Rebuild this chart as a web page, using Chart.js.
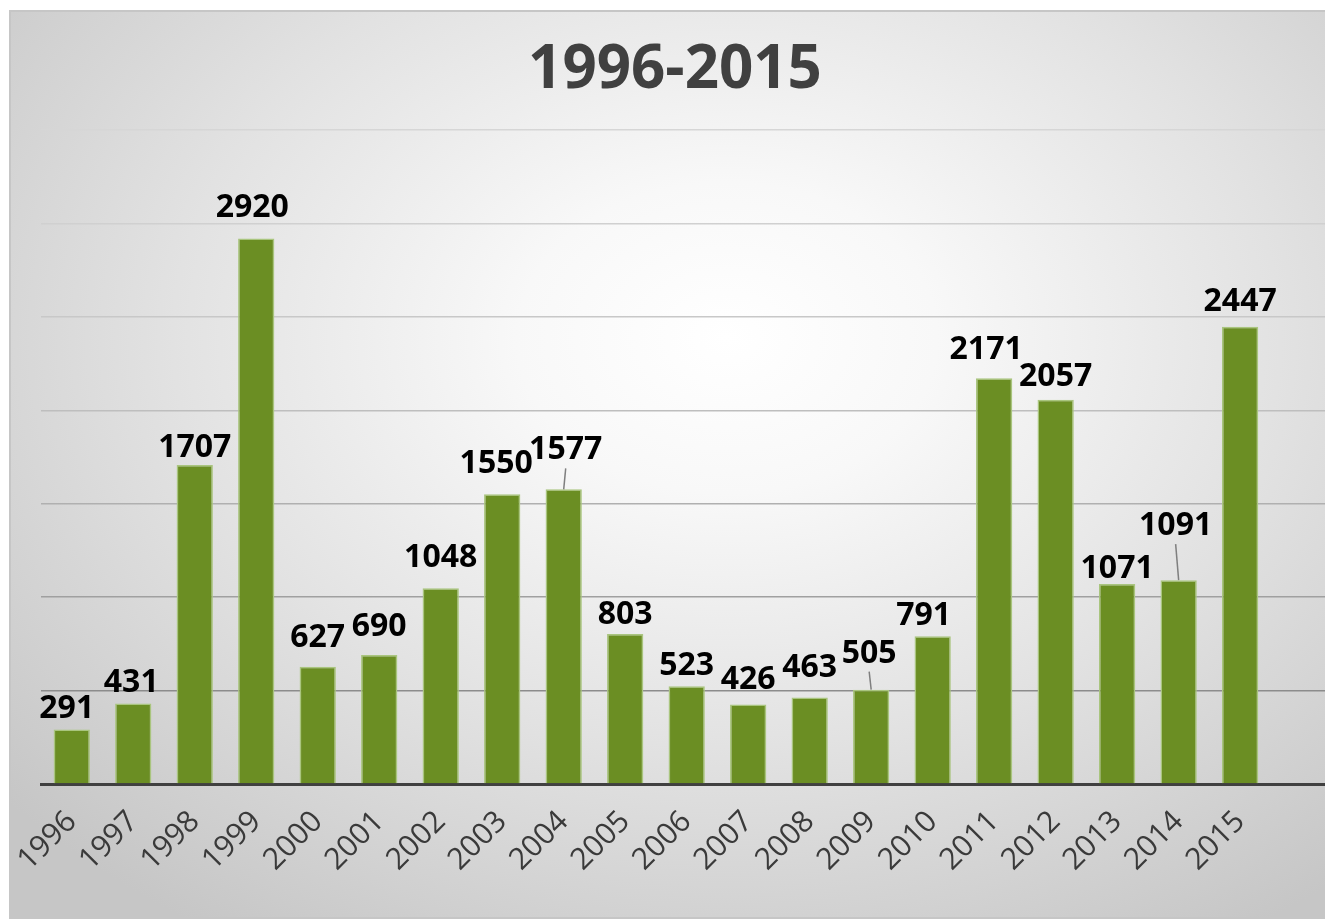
<!DOCTYPE html>
<html><head><meta charset="utf-8">
<script src="https://cdn.jsdelivr.net/npm/chart.js@4.4.1/dist/chart.umd.min.js"></script>
<style>
html,body{margin:0;padding:0;background:#fff;overflow:hidden;width:1325px;height:921px;}
#frame{position:absolute;left:9px;top:10px;width:1330px;height:909px;border:2px solid #c6c6c6;box-sizing:border-box;
 background:radial-gradient(ellipse 72% 78% at 54% 36%, #ffffff 0%, #f8f8f8 22%, #e2e2e2 58%, #c6c6c6 100%);}
#wrap{position:absolute;left:0;top:0;width:1325px;height:921px;}
</style></head><body>
<div id="frame"></div>
<div id="wrap"><canvas id="c"></canvas></div>
<script>
const chartTitle = '1996-2015';
const years = ['1996','1997','1998','1999','2000','2001','2002','2003','2004','2005','2006','2007','2008','2009','2010','2011','2012','2013','2014','2015'];
const values = [291,431,1707,2920,627,690,1048,1550,1577,803,523,426,463,505,791,2171,2057,1071,1091,2447];
const yMin = 0, yMax = 3500, yStep = 500;

// label placement nudges (dx, dy) and leader lines — layout only
const labelNudges = [[-5,-2],[-2,-1],[0,2],[-4,-11],[0,-10],[0,-9],[0,-11],[-6,-11],[2,-20],[0,0],[0,-1],[0,-5],[0,-10],[-2,-17],[-9,-1],[-8,-9],[0,-4],[0,4],[-3,-35],[0,-6]];
const leaderIdx = [8,13,18];
const gridColors = ['#404040','#8c8c8c','#a0a0a0','#b0b0b0','#bebebe','#c8c8c8','#d0d0d0','#d6d6d6'];

const labelPlugin = {
  id:'barLabels',
  afterDatasetsDraw(chart){
    const ctx = chart.ctx;
    const meta = chart.getDatasetMeta(0);
    ctx.save();
    ctx.font = 'bold 32px "Open Sans"';
    ctx.textAlign = 'center';
    ctx.textBaseline = 'alphabetic';
    meta.data.forEach((bar,i)=>{
      const [dx,dy] = labelNudges[i];
      const x = bar.x + dx;
      const yb = bar.y - 10 + dy;
      if (leaderIdx.includes(i)) {
        ctx.strokeStyle = '#7f7f7f';
        ctx.lineWidth = 1.5;
        ctx.beginPath();
        ctx.moveTo(x, yb + 9);
        ctx.lineTo(bar.x, bar.y);
        ctx.stroke();
      }
      ctx.fillStyle = '#000000';
      ctx.fillText(String(values[i]), x, yb);
    });
    ctx.restore();
  }
};

new Chart(document.getElementById('c'), {
  type:'bar',
  data:{
    datasets:[{
      data: values.map((v,i)=>({x:i, y:v})),
      backgroundColor:'#6B8E23',
      borderColor:'#A9C57E',
      borderWidth:1.5,
      categoryPercentage:1,
      barPercentage:0.59
    }]
  },
  options:{
    responsive:true,
    maintainAspectRatio:false,
    animation:false,
    layout:{padding:{left:25,right:0,top:0,bottom:0}},
    plugins:{
      legend:{display:false},
      tooltip:{enabled:false},
      title:{display:true,text:chartTitle,color:'#404040',
        font:{family:'"Open Sans"',size:60,weight:'bold',lineHeight:1.2},
        padding:{top:35,bottom:23}}
    },
    scales:{
      x:{
        type:'linear',
        offset:false,
        min:-0.5,
        max:20.38,
        grid:{display:false,drawTicks:false,offset:false},
        border:{display:true,color:'#404040',width:3},
        ticks:{
          stepSize:1,autoSkip:false,includeBounds:false,
          minRotation:45,maxRotation:45,padding:20,
          color:'#3a3a3a',
          font:{family:'"Open Sans"',size:30},
          callback:(v)=> (Number.isInteger(v) && years[v]) ? years[v] : ''
        },
        afterFit:(s)=>{ s.height = 137; s.paddingLeft = 0; s.paddingRight = 0; }
      },
      y:{
        min:yMin,max:yMax,
        ticks:{display:false,stepSize:yStep},
        grid:{drawTicks:false,lineWidth:1.5,color:(c)=>gridColors[c.index] || '#d6d6d6'},
        border:{display:false},
        afterFit:(s)=>{ s.width = 16; }
      }
    }
  },
  plugins:[labelPlugin]
});
</script>
</body></html>
